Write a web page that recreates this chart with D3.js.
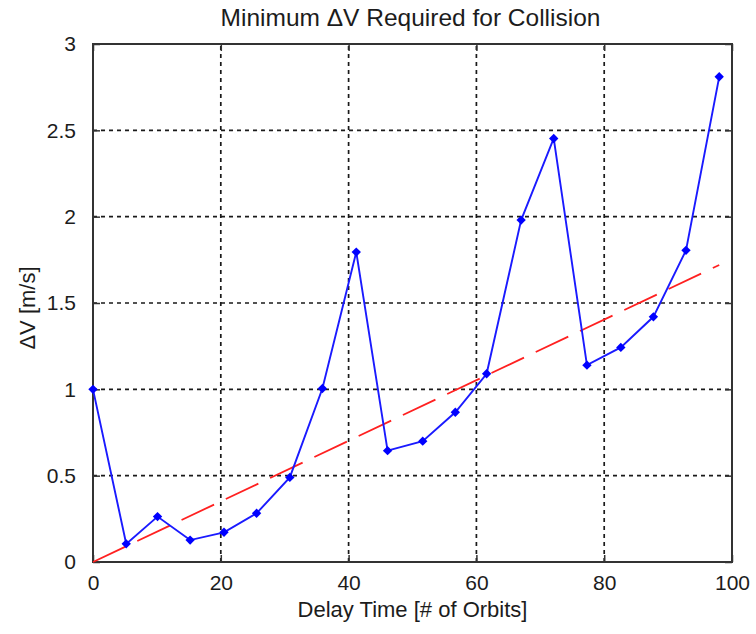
<!DOCTYPE html>
<html>
<head>
<meta charset="utf-8">
<script src="https://cdn.jsdelivr.net/npm/d3@7"></script>
<style>
  html, body { margin: 0; padding: 0; background: #fff; }
  svg { display: block; font-family: "Liberation Sans", Arial, Helvetica, sans-serif; }
</style>
</head>
<body>
<svg id="chart" width="756" height="634"></svg>
<script>
// Delay time (orbits) and minimum delta-V (m/s) for each simulated case
const delayOrbits = [0, 5.2, 10.1, 15.2, 20.5, 25.6, 30.8, 35.9, 41.2, 46.1,
                     51.6, 56.7, 61.6, 67.0, 72.1, 77.3, 82.6, 87.7, 92.8, 98.0];
const minDeltaV   = [1.00, 0.105, 0.263, 0.127, 0.172, 0.282, 0.490, 1.005, 1.795, 0.645,
                     0.700, 0.867, 1.090, 1.980, 2.453, 1.140, 1.243, 1.420, 1.805, 2.810];

// Linear trend through the origin
const trendX = [0, 98];
const trendY = [0, 1.72];

const xTicks = [0, 20, 40, 60, 80, 100];
const yTicks = [0, 0.5, 1, 1.5, 2, 2.5, 3];

const titleText = "Minimum \u0394V Required for Collision";
const xLabelText = "Delay Time [# of Orbits]";
const yLabelText = "\u0394V  [m/s]";

const svg = d3.select("#chart");
const plotLeft = 93, plotRight = 732, plotTop = 44, plotBottom = 562;

const x = d3.scaleLinear().domain([0, 100]).range([plotLeft, plotRight]);
const y = d3.scaleLinear().domain([0, 3]).range([plotBottom, plotTop]);

const ink = "#1c1c1c";

// Dotted grid
const grid = svg.append("g").attr("stroke", "#1a1a1a").attr("stroke-width", 1.7)
  .attr("stroke-dasharray", "4,4");
grid.selectAll("line.gx").data(xTicks.slice(1, -1)).join("line")
  .attr("class", "gx")
  .attr("x1", d => x(d)).attr("x2", d => x(d))
  .attr("y1", plotBottom).attr("y2", plotTop);
grid.selectAll("line.gy").data(yTicks.slice(1, -1)).join("line")
  .attr("class", "gy")
  .attr("y1", d => y(d)).attr("y2", d => y(d))
  .attr("x1", plotLeft).attr("x2", plotRight);

// Axes with inward ticks on all four sides
function styleAxis(g) {
  g.select(".domain").remove();
  g.selectAll(".tick line").attr("stroke", "#333").attr("stroke-width", 1.5);
  g.selectAll(".tick text").attr("fill", ink).attr("font-size", 21);
}
const fmt = d => d3.format("")(d);

svg.append("g").attr("transform", `translate(0,${plotBottom})`)
  .call(d3.axisBottom(x).tickValues(xTicks).tickSize(-7).tickPadding(13).tickFormat(fmt))
  .call(styleAxis);
svg.append("g").attr("transform", `translate(0,${plotTop})`)
  .call(d3.axisTop(x).tickValues(xTicks).tickSize(-7).tickFormat(""))
  .call(styleAxis);
svg.append("g").attr("transform", `translate(${plotLeft},0)`)
  .call(d3.axisLeft(y).tickValues(yTicks).tickSize(-7).tickPadding(17).tickFormat(fmt))
  .call(styleAxis);
svg.append("g").attr("transform", `translate(${plotRight},0)`)
  .call(d3.axisRight(y).tickValues(yTicks).tickSize(-7).tickFormat(""))
  .call(styleAxis);

// Axes box
svg.append("rect")
  .attr("x", plotLeft).attr("y", plotTop)
  .attr("width", plotRight - plotLeft).attr("height", plotBottom - plotTop)
  .attr("fill", "none").attr("stroke", "#333").attr("stroke-width", 2);

// Trend line
const line = d3.line().x(d => x(d[0])).y(d => y(d[1]));
svg.append("path")
  .datum(d3.zip(trendX, trendY))
  .attr("d", line)
  .attr("fill", "none")
  .attr("stroke", "#ff2020")
  .attr("stroke-width", 1.8)
  .attr("stroke-dasharray", "36,13");

// Data series
const pts = d3.zip(delayOrbits, minDeltaV);
svg.append("path")
  .datum(pts)
  .attr("d", line)
  .attr("fill", "none")
  .attr("stroke", "#1a1aff")
  .attr("stroke-width", 1.9);

svg.append("g").selectAll("path").data(pts).join("path")
  .attr("transform", d => `translate(${x(d[0])},${y(d[1])})`)
  .attr("d", d3.symbol(d3.symbolDiamond2, 56))
  .attr("fill", "#0000ff");

// Title and axis labels
svg.append("text")
  .attr("x", (plotLeft + plotRight) / 2 - 2).attr("y", 26)
  .attr("text-anchor", "middle")
  .attr("font-size", 24.5)
  .attr("fill", ink)
  .text(titleText);

svg.append("text")
  .attr("x", (plotLeft + plotRight) / 2).attr("y", 617)
  .attr("text-anchor", "middle")
  .attr("font-size", 22)
  .attr("fill", ink)
  .text(xLabelText);

svg.append("text")
  .attr("transform", `translate(35,${(plotTop + plotBottom) / 2 + 5}) rotate(-90)`)
  .attr("text-anchor", "middle")
  .attr("font-size", 22)
  .attr("fill", ink)
  .text(yLabelText);
</script>
</body>
</html>
